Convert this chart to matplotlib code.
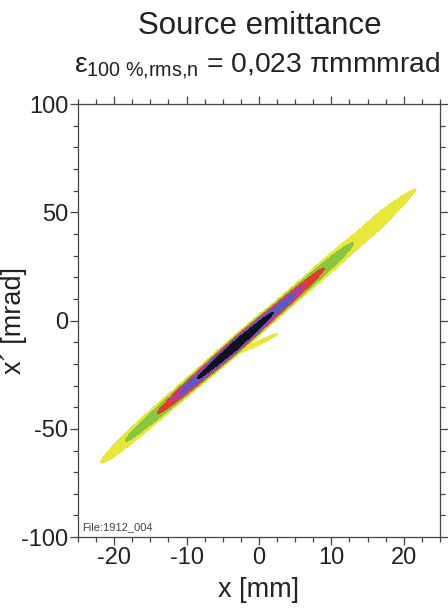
import numpy as np
import matplotlib.pyplot as plt
from matplotlib.ticker import MultipleLocator

plt.rcParams["font.family"] = ["Liberation Sans", "DejaVu Sans"]
plt.rcParams["mathtext.fontset"] = "custom"
plt.rcParams["mathtext.rm"] = "Liberation Sans"
plt.rcParams["mathtext.it"] = "Liberation Sans"
plt.rcParams["mathtext.sf"] = "Liberation Sans"
plt.rcParams["axes.unicode_minus"] = False

# beam ridge: position (mm), centre angle (mrad), peak level, vertical spread (mrad)
beam_x = [-22.0, -20.0, -18.5, -14.0, -12.0, -11.0, -8.5, -3.0, 2.0, 5.0, 6.5, 9.0, 13.0, 17.0, 20.0, 22.0]
beam_xp = [-65.8, -60.0, -55.6, -42.6, -36.8, -33.9, -26.7, -10.8, 3.7, 12.4, 16.7, 24.0, 35.5, 47.1, 55.8, 61.5]
beam_peak = [0.95, 1.6, 2.0, 3.5, 5.0, 6.5, 9.0, 16.0, 9.0, 6.5, 5.0, 3.5, 2.0, 1.75, 1.3, 0.95]
beam_sigma = [2.6, 3.0, 3.0, 2.7, 2.4, 2.3, 2.2, 2.2, 2.2, 2.3, 2.5, 2.9, 3.5, 3.9, 3.2, 2.2]

# small side spur below the core
spur_x = [-3.5, -1.0, 1.5, 2.8]
spur_xp = [-15.0, -11.8, -7.8, -5.9]
spur_peak = [1.6, 1.5, 1.3, 0.95]
spur_sigma = 1.1

levels = [1.0, 2.0, 3.5, 5.0, 6.5, 9.0, 1000.0]
colors = ["#e8e83c", "#8cc641", "#e5392d", "#b0409a", "#5a5ac2", "#101020"]

gx = np.linspace(-25, 25, 900)
gy = np.linspace(-100, 100, 1400)
X, Y = np.meshgrid(gx, gy)

c = np.interp(gx, beam_x, beam_xp)
p = np.interp(gx, beam_x, beam_peak, left=0, right=0)
s = np.interp(gx, beam_x, beam_sigma)
main = p * np.exp(-0.5 * ((Y - c) / s) ** 2)

inside = (gx >= spur_x[0]) & (gx <= spur_x[-1])
sc = np.interp(gx, spur_x, spur_xp)
sp = np.where(inside, np.interp(gx, spur_x, spur_peak), 0)
spur = sp * np.exp(-0.5 * ((Y - sc) / spur_sigma) ** 2)

Z = np.maximum(main, spur)

fig = plt.figure(figsize=(4.48, 6.09), dpi=100)
ax = fig.add_axes([0.174, 0.118, 0.808, 0.711])
ax.contourf(X, Y, Z, levels=levels, colors=colors)

ax.set_xlim(-25, 25)
ax.set_ylim(-100, 100)
ax.xaxis.set_major_locator(MultipleLocator(10))
ax.xaxis.set_minor_locator(MultipleLocator(2.5))
ax.yaxis.set_major_locator(MultipleLocator(50))
ax.yaxis.set_minor_locator(MultipleLocator(10))
ax.tick_params(which="both", direction="out", top=True, right=True, color="#444444", width=0.9)
ax.tick_params(which="major", length=6, labelsize=17, pad=1, labelcolor="#222222")
ax.tick_params(which="minor", length=3.5)
for sp_ in ax.spines.values():
    sp_.set_color("#444444")
    sp_.set_linewidth(0.9)

ax.set_xlabel("x [mm]", fontsize=19.5, labelpad=6, color="#222222")
ax.set_ylabel("x\u00b4 [mrad]", fontsize=19.5, color="#222222")
ax.yaxis.set_label_coords(-0.141, 0.5)
ax.text(0.012, 0.012, "File:1912_004", transform=ax.transAxes, fontsize=8, color="#444444", va="bottom")

fig.text(0.58, 0.958, "Source emittance", fontsize=22.5, ha="center", va="center", color="#222222")
fig.text(0.573, 0.893, r"$\varepsilon_{100\ \%{,}\mathrm{rms{,}n}}$ = 0,023 $\pi$mmmrad",
         fontsize=20.3, ha="center", va="center", color="#222222")

fig.savefig("out.png", dpi=100)
